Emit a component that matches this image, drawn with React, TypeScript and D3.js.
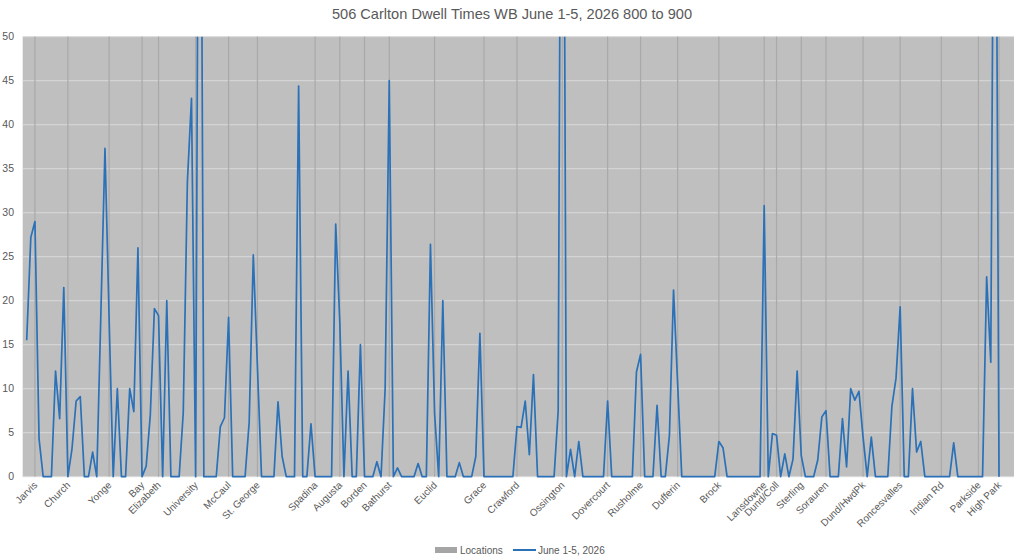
import React from "react";
import * as d3 from "d3";

// dwell time (s) per stop segment, 8:00-9:00, June 1-5 2026
const VALUES: (number | null)[] = [
  15.5, 27.2, 29.0, 4.3, 0, 0, 0, 12.0, 6.6, 21.5,
  0, 3.2, 8.6, 9.1, 0, 0, 2.8, 0, 18.5, 37.3,
  18.0, 0, 10.0, 0, 0, 10.0, 7.4, 26.0, 0, 1.2,
  7.0, 19.1, 18.3, 0, 20.0, 0, 0, 0, 7.3, 33.5,
  43.0, 0, 110, 0, 0, 0, 0, 5.7, 6.7, 18.1,
  0, 0, 0, 0, 6.2, 25.2, 12.5, 0, 0, 0,
  0, 8.5, 2.3, 0, 0, 0, 44.4, 0, 0, 6.0,
  0, 0, 0, 0, 0, 28.7, 17.5, 0, 12.0, 0,
  0, 15.0, 0, 0, 0, 1.7, 0, 10.0, 45.0, 0,
  1.0, 0, 0, 0, 0, 1.5, 0, 0, 26.4, 7.2,
  0, 20.0, 0, 0, 0, 1.6, 0, 0, 0, 2.3,
  16.3, 0, 0, 0, 0, 0, 0, 0, 0, 5.7,
  5.6, 8.6, 2.5, 11.6, 0, 0, 0, 0, 0, 7.5,
  120, 0, 3.1, 0, 4.0, 0, 0, 0, 0, 0,
  0, 8.6, 0, 0, 0, 0, 0, 0, 11.9, 13.9,
  0, 0, 0, 8.1, 0, 0, 4.7, 21.2, 10.5, 0,
  0, 0, 0, 0, 0, 0, 0, 0, 4.0, 3.3,
  0, 0, 0, 0, 0, 0, 0, 0, 0, 30.8,
  0, 4.9, 4.7, 0, 2.6, 0, 2.0, 12.0, 2.4, 0,
  0, 0, 1.9, 6.8, 7.5, 0, 0, 0, 6.6, 1.1,
  10.0, 8.7, 9.7, 4.5, 0, 4.5, 0, 0, 0, 0,
  8.0, 11.2, 19.3, 0, 0, 10.0, 2.8, 4.0, 0, 0,
  0, 0, 0, 0, 0, 3.85, 0, 0, 0, 0,
  0, 0, 0, 22.7, 13.0, 100, 0, null, null, null,
];

const LOCATIONS = [
  "Jarvis", "Church", "Yonge", "Bay", "Elizabeth", "University", "McCaul",
  "St. George", "Spadina", "Augusta", "Borden", "Bathurst", "Euclid", "Grace",
  "Crawford", "Ossington", "Dovercourt", "Rusholme", "Dufferin", "Brock",
  "Lansdowne", "Dund/Coll", "Sterling", "Sorauren", "Dund/HwdPk",
  "Roncesvalles", "Indian Rd", "Parkside", "High Park",
];
const LOCATION_IDX = [
  2, 10, 20, 28, 32, 41, 49, 56, 70, 76, 82, 88, 99, 111, 119, 130, 141, 149,
  158, 168, 179, 182, 188, 194, 203, 212, 222, 231, 236,
];
const LOCATION_VALUE = 50;

const Y_TICKS = [0, 5, 10, 15, 20, 25, 30, 35, 40, 45, 50];

const TITLE = "506 Carlton Dwell Times WB June 1-5, 2026 800 to 900";
const SERIES_NAMES = ["Locations", "June 1-5, 2026"];

const W = 1024;
const H = 560;
const plot = { left: 22.7, right: 1014, top: 36.7, bottom: 476.7 };
const TEXT = "#595959";
const FONT = "'Liberation Sans', Arial, sans-serif";

export default function App() {
  const idx = d3.range(VALUES.length);
  const x = d3.scalePoint<number>().domain(idx).range([26.7, 26.7 + 4.12 * (VALUES.length - 1)]);
  const y = d3.scaleLinear().domain([0, 50]).range([plot.bottom, plot.top]);

  const line = d3
    .line<number | null>()
    .defined((d) => d != null)
    .x((_, i) => x(i)!)
    .y((d) => y(d as number));

  return (
    <svg
      width={W}
      height={H}
      style={{ position: "absolute", left: 0, top: 0, background: "#fff" }}
      fontFamily={FONT}
    >
      <defs>
        <clipPath id="plotclip">
          <rect x={plot.left} y={plot.top} width={plot.right - plot.left} height={H - plot.top} />
        </clipPath>
      </defs>

      <text x={512} y={19} textAnchor="middle" fontSize={14.6} fill={TEXT}>
        {TITLE}
      </text>

      {/* plot background */}
      <rect
        x={plot.left}
        y={plot.top}
        width={plot.right - plot.left}
        height={plot.bottom - plot.top}
        fill="#bfbfbf"
      />

      {/* horizontal gridlines + y labels */}
      {Y_TICKS.map((t) => (
        <g key={t}>
          <line x1={plot.left} x2={plot.right} y1={y(t)} y2={y(t)} stroke="#d9d9d9" strokeWidth={1} />
          <text x={14} y={y(t)} dy="0.35em" textAnchor="end" fontSize={10.5} fill={TEXT}>
            {t}
          </text>
        </g>
      ))}

      {/* Locations series: thin columns at stop positions */}
      {LOCATION_IDX.map((i, k) => (
        <rect
          key={k}
          x={x(i)! - 0.6}
          y={y(LOCATION_VALUE)}
          width={1.2}
          height={y(0) - y(LOCATION_VALUE)}
          fill="#a9a9a9"
        />
      ))}

      {/* dwell time line */}
      <path
        d={line(VALUES) || ""}
        fill="none"
        stroke="#2a71b8"
        strokeWidth={1.7}
        strokeLinejoin="round"
        clipPath="url(#plotclip)"
      />

      {/* x labels */}
      {LOCATION_IDX.map((i, k) => (
        <text
          key={k}
          transform={`translate(${x(i)! + 3},${plot.bottom + 9}) rotate(-45)`}
          textAnchor="end"
          fontSize={10}
          fill={TEXT}
        >
          {LOCATIONS[k]}
        </text>
      ))}

      {/* legend */}
      <g fontSize={10} fill={TEXT}>
        <rect x={435} y={547} width={22} height={6} fill="#a5a5a5" />
        <text x={460} y={550} dy="0.35em">
          {SERIES_NAMES[0]}
        </text>
        <line x1={513} x2={536} y1={550} y2={550} stroke="#2a71b8" strokeWidth={2} />
        <text x={538} y={550} dy="0.35em">
          {SERIES_NAMES[1]}
        </text>
      </g>
    </svg>
  );
}
